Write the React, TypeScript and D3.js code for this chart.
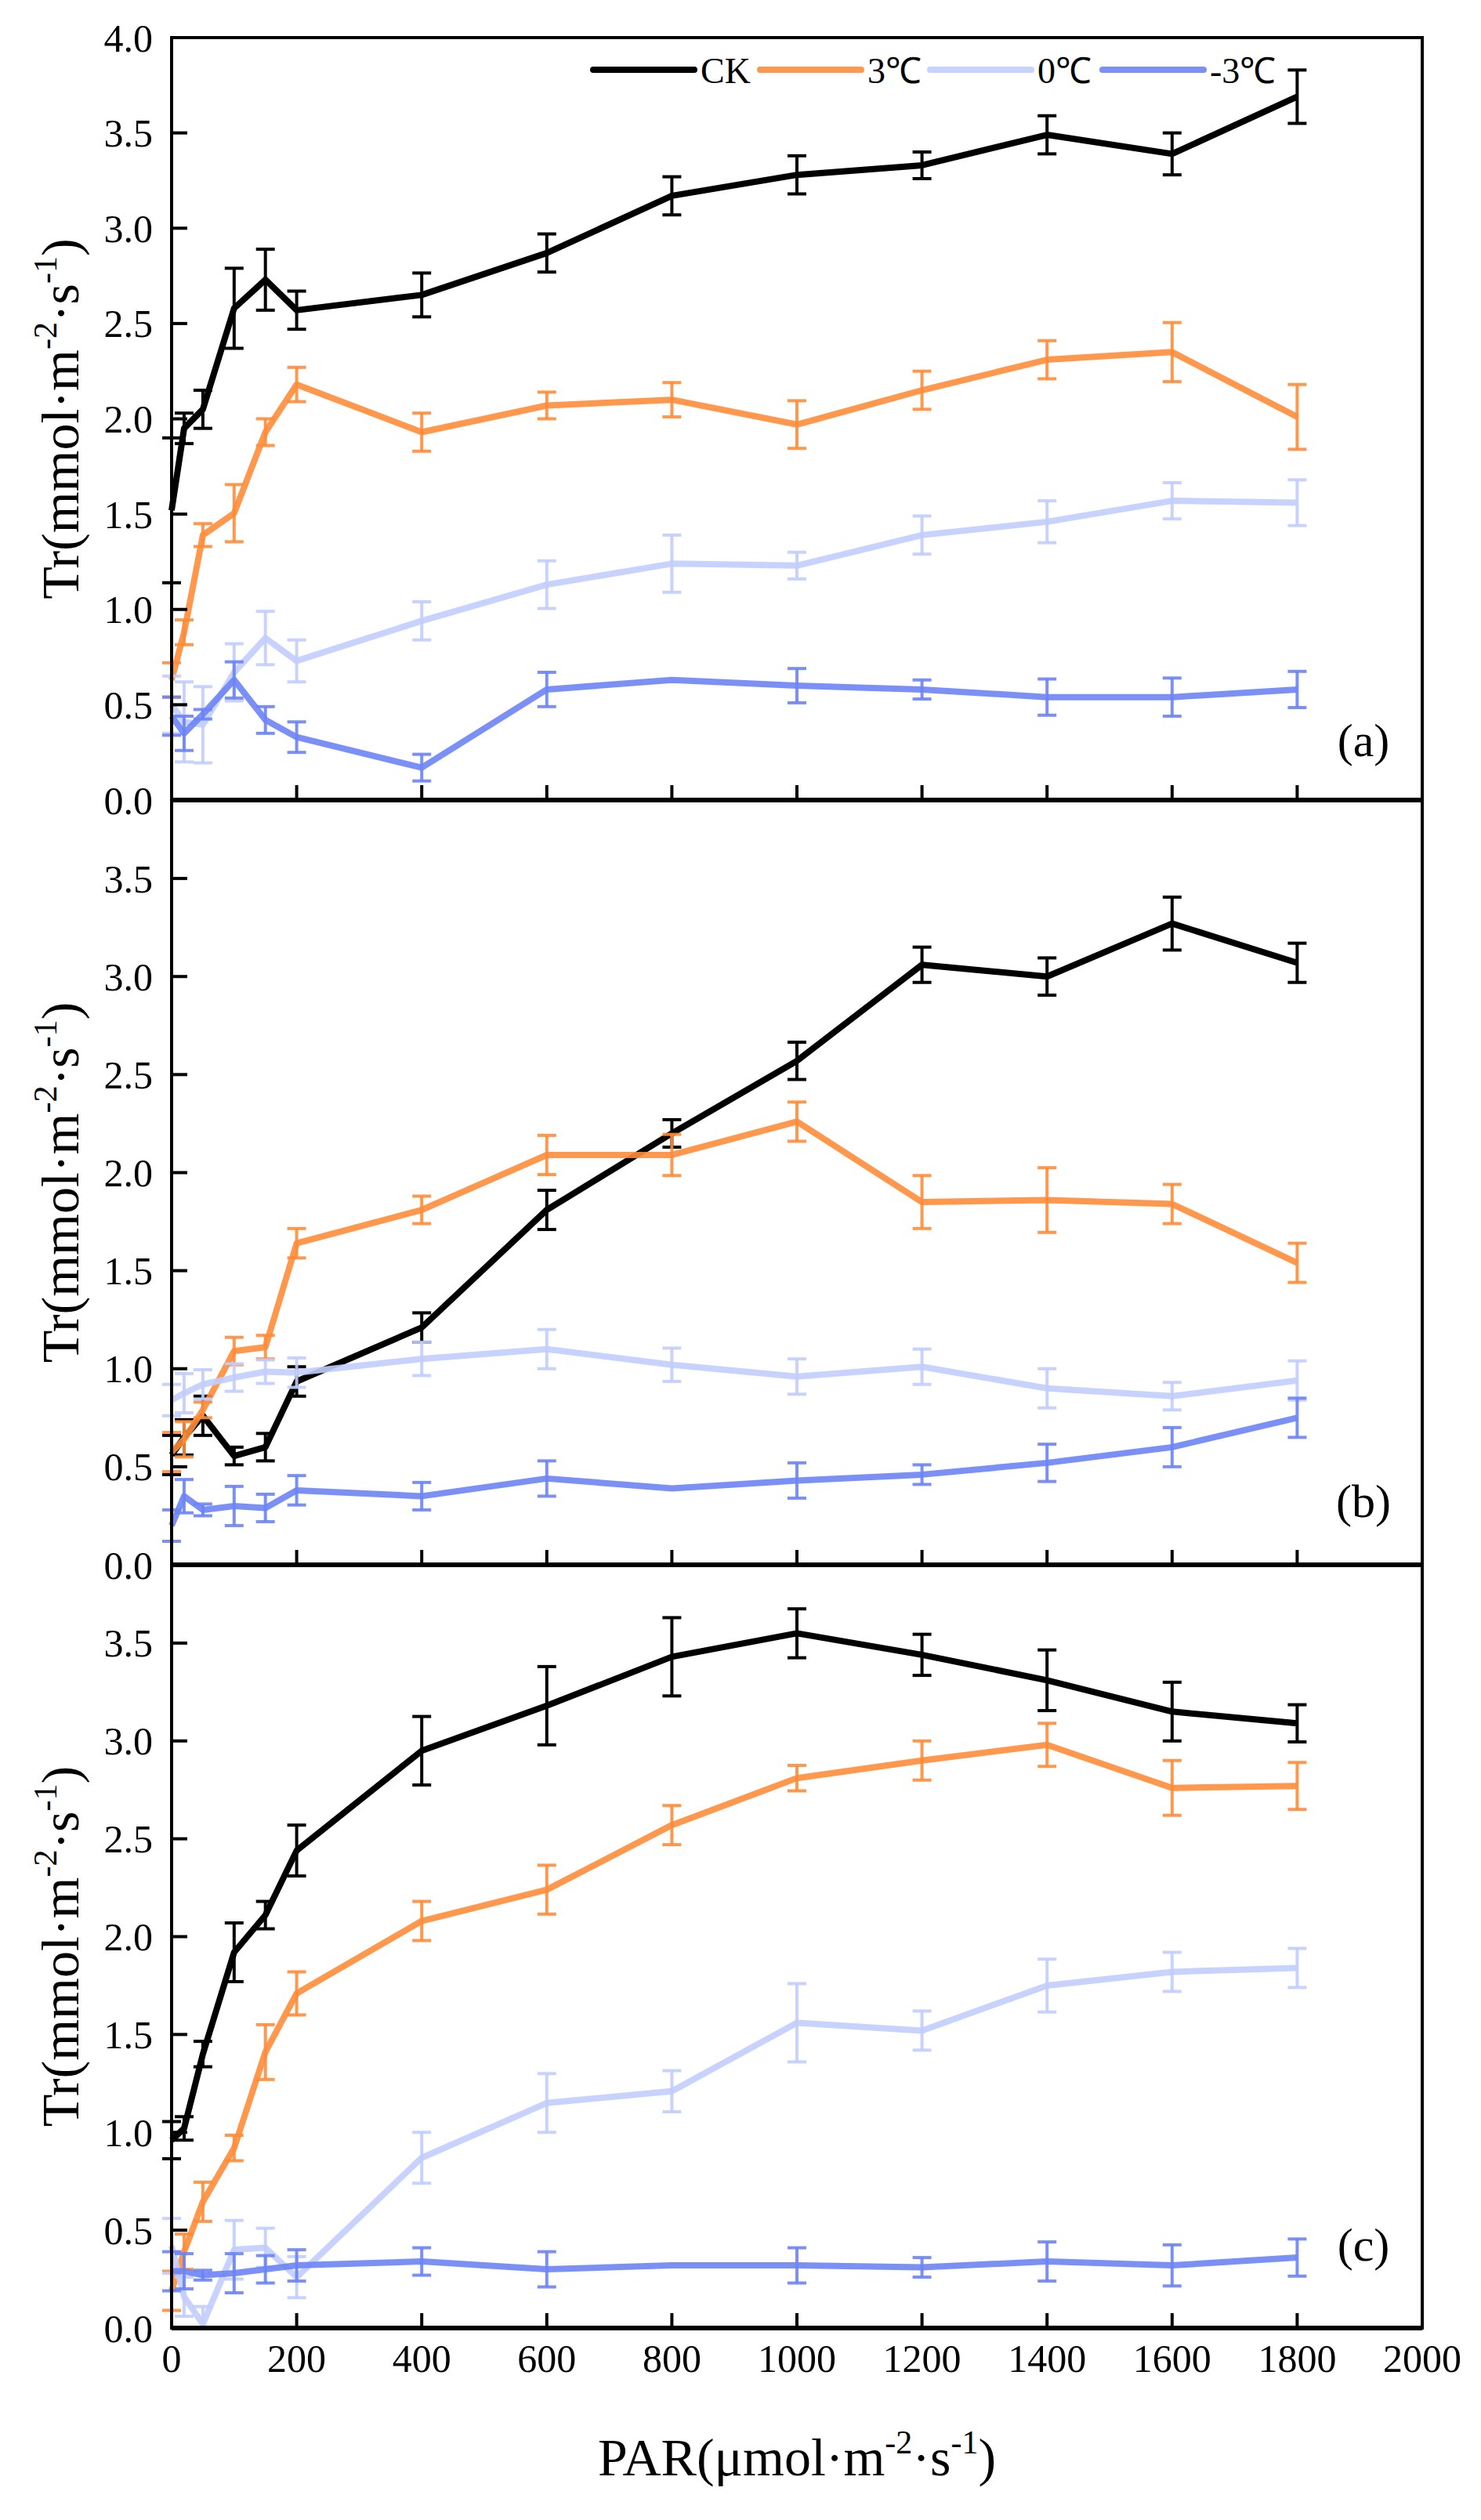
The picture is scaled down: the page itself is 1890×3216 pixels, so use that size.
import { useEffect, useRef } from 'react';
import * as d3 from 'd3';

// PAR levels (umol m-2 s-1)
const par = [0, 20, 50, 100, 150, 200, 400, 600, 800, 1000, 1200, 1400, 1600, 1800];

const seriesNames = ["CK", "3℃", "0℃", "-3℃"];
const seriesColors = ["#000000", "#FF8C3A", "#C2CDFE", "#6B84F6"];

// panel (a)
const ckA = [1.52, 1.95, 2.05, 2.58, 2.73, 2.57, 2.65, 2.87, 3.17, 3.28, 3.33, 3.49, 3.39, 3.69];
const ckAErr = [0.38, 0.08, 0.1, 0.21, 0.16, 0.1, 0.115, 0.1, 0.1, 0.1, 0.07, 0.1, 0.11, 0.14];
const t3A = [0.63, 0.88, 1.39, 1.505, 1.93, 2.18, 1.93, 2.07, 2.1, 1.97, 2.15, 2.31, 2.35, 2.01];
const t3AErr = [0.09, 0.065, 0.06, 0.15, 0.07, 0.09, 0.1, 0.07, 0.09, 0.125, 0.1, 0.1, 0.155, 0.17];
const t0A = [0.5, 0.41, 0.395, 0.67, 0.85, 0.73, 0.94, 1.13, 1.24, 1.23, 1.39, 1.46, 1.57, 1.56];
const t0AErr = [0.15, 0.21, 0.2, 0.15, 0.14, 0.11, 0.1, 0.125, 0.15, 0.07, 0.1, 0.11, 0.095, 0.12];
const tm3A = [0.44, 0.35, 0.45, 0.63, 0.42, 0.33, 0.17, 0.58, 0.63, 0.6, 0.58, 0.54, 0.54, 0.58];
const tm3AErr = [0.1, 0.09, 0.025, 0.095, 0.07, 0.08, 0.07, 0.09, 0, 0.09, 0.05, 0.095, 0.1, 0.095];

// panel (b)
const ckB = [0.56, 0.65, 0.76, 0.555, 0.6, 0.935, 1.21, 1.81, 2.2, 2.57, 3.06, 3.0, 3.27, 3.07];
const ckBErr = [0.1, 0.09, 0.1, 0.045, 0.07, 0.075, 0.075, 0.1, 0.07, 0.095, 0.09, 0.095, 0.135, 0.1];
const t3B = [0.575, 0.64, 0.79, 1.09, 1.11, 1.64, 1.81, 2.09, 2.09, 2.26, 1.85, 1.86, 1.84, 1.54];
const t3BErr = [0.1, 0.09, 0.04, 0.07, 0.06, 0.075, 0.07, 0.1, 0.105, 0.1, 0.135, 0.165, 0.1, 0.1];
const t0B = [0.84, 0.875, 0.92, 0.955, 0.985, 0.98, 1.05, 1.1, 1.02, 0.96, 1.01, 0.9, 0.86, 0.94];
const t0BErr = [0.08, 0.1, 0.075, 0.07, 0.06, 0.075, 0.085, 0.1, 0.085, 0.09, 0.09, 0.1, 0.07, 0.1];
const tm3B = [0.2, 0.35, 0.28, 0.3, 0.29, 0.38, 0.35, 0.44, 0.39, 0.43, 0.46, 0.52, 0.6, 0.75];
const tm3BErr = [0.08, 0.085, 0.03, 0.1, 0.07, 0.075, 0.07, 0.09, 0, 0.09, 0.05, 0.095, 0.1, 0.1];

// panel (c)
const ckC = [0.96, 1.02, 1.4, 1.92, 2.11, 2.44, 2.95, 3.18, 3.43, 3.55, 3.44, 3.31, 3.15, 3.09];
const ckCErr = [0.095, 0.06, 0.065, 0.15, 0.07, 0.13, 0.175, 0.2, 0.2, 0.125, 0.105, 0.155, 0.15, 0.095];
const t3C = [0.19, 0.39, 0.645, 0.92, 1.41, 1.71, 2.08, 2.24, 2.57, 2.81, 2.9, 2.98, 2.76, 2.77];
const t3CErr = [0.1, 0.09, 0.1, 0.065, 0.14, 0.11, 0.1, 0.125, 0.1, 0.065, 0.1, 0.11, 0.14, 0.12];
const t0C = [0.42, 0.16, 0.02, 0.4, 0.41, 0.26, 0.87, 1.15, 1.21, 1.56, 1.52, 1.75, 1.82, 1.84];
const t0CErr = [0.14, 0.1, 0.09, 0.15, 0.1, 0.105, 0.13, 0.15, 0.105, 0.2, 0.1, 0.135, 0.1, 0.1];
const tm3C = [0.29, 0.29, 0.27, 0.28, 0.3, 0.32, 0.34, 0.3, 0.32, 0.32, 0.31, 0.34, 0.32, 0.36];
const tm3CErr = [0.1, 0.09, 0.025, 0.1, 0.07, 0.08, 0.07, 0.09, 0, 0.09, 0.05, 0.1, 0.105, 0.095];

const xTicks = [0, 200, 400, 600, 800, 1000, 1200, 1400, 1600, 1800, 2000];
const yTicksA = [0, 0.5, 1, 1.5, 2, 2.5, 3, 3.5, 4];
const yTicksBC = [0, 0.5, 1, 1.5, 2, 2.5, 3, 3.5];

const panels = [
    { label: "(a)", yMax: 4.0, ticks: yTicksA, values: [ckA, t3A, t0A, tm3A], errors: [ckAErr, t3AErr, t0AErr, tm3AErr] },
    { label: "(b)", yMax: 3.9, ticks: yTicksBC, values: [ckB, t3B, t0B, tm3B], errors: [ckBErr, t3BErr, t0BErr, tm3BErr] },
    { label: "(c)", yMax: 3.9, ticks: yTicksBC, values: [ckC, t3C, t0C, tm3C], errors: [ckCErr, t3CErr, t0CErr, tm3CErr] },
];

const WIDTH = 1890;
const HEIGHT = 3216;
const FONT = "'Liberation Serif', 'Times New Roman', serif";

export default function App() {
    const svgRef = useRef<SVGSVGElement>(null);

    useEffect(() => {
        if (!svgRef.current) return;
        const svg = d3.select(svgRef.current);
        svg.selectAll("*").remove();

        const left = 219;
        const right = 1815;
        const tops = [48, 1021, 1997];
        const bottoms = [1021, 1997, 2971];

        const x = d3.scaleLinear().domain([0, 2000]).range([left, right]);

        panels.forEach((p, pi) => {
            const y = d3.scaleLinear().domain([0, p.yMax]).range([bottoms[pi], tops[pi]]);
            const g = svg.append("g");

            // series: lines then error bars
            p.values.forEach((vals, si) => {
                const color = seriesColors[si];
                const op = si === 0 ? 1 : 0.9;
                const pts = par.map((v, i) => [v, vals[i]] as [number, number]);
                const line = d3.line<[number, number]>()
                    .x(d => x(d[0]))
                    .y(d => y(d[1]));

                g.append("path")
                    .attr("d", line(pts))
                    .attr("fill", "none")
                    .attr("stroke", color)
                    .attr("stroke-opacity", op)
                    .attr("stroke-width", 8)
                    .attr("stroke-linejoin", "round");

                const errs = p.errors[si];
                const eg = g.append("g")
                    .attr("stroke", color)
                    .attr("stroke-opacity", op)
                    .attr("stroke-width", 4);
                par.forEach((v, i) => {
                    if (!errs[i]) return;
                    const cx = x(v);
                    const y1 = y(Math.max(0, vals[i] - errs[i]));
                    const y2 = y(vals[i] + errs[i]);
                    eg.append("line").attr("x1", cx).attr("x2", cx).attr("y1", y1).attr("y2", y2);
                    eg.append("line").attr("x1", cx - 12).attr("x2", cx + 12).attr("y1", y1).attr("y2", y1);
                    eg.append("line").attr("x1", cx - 12).attr("x2", cx + 12).attr("y1", y2).attr("y2", y2);
                });
            });

            // frame
            g.append("rect")
                .attr("x", left)
                .attr("y", tops[pi])
                .attr("width", right - left)
                .attr("height", bottoms[pi] - tops[pi])
                .attr("fill", "none")
                .attr("stroke", "#000")
                .attr("stroke-width", 4);
            g.append("line")
                .attr("x1", left).attr("x2", right)
                .attr("y1", bottoms[pi]).attr("y2", bottoms[pi])
                .attr("stroke", "#000").attr("stroke-width", 6);

            // x ticks (inward)
            g.selectAll(".xtick")
                .data(xTicks.slice(1, -1))
                .enter()
                .append("line")
                .attr("x1", d => x(d)).attr("x2", d => x(d))
                .attr("y1", bottoms[pi]).attr("y2", bottoms[pi] - 19)
                .attr("stroke", "#000").attr("stroke-width", 4);

            // y ticks (inward) + labels
            g.selectAll(".ytick")
                .data(p.ticks)
                .enter()
                .append("line")
                .attr("x1", left).attr("x2", left + 20)
                .attr("y1", d => y(d)).attr("y2", d => y(d))
                .attr("stroke", "#000").attr("stroke-width", 4);
            g.selectAll(".ylab")
                .data(p.ticks)
                .enter()
                .append("text")
                .attr("x", left - 24)
                .attr("y", d => y(d))
                .attr("dy", "0.35em")
                .attr("text-anchor", "end")
                .attr("font-family", FONT)
                .attr("font-size", 50)
                .text(d => d.toFixed(1));

            // y title
            const cy = (tops[pi] + bottoms[pi]) / 2;
            const title = g.append("text")
                .attr("transform", `translate(100,${cy}) rotate(-90)`)
                .attr("text-anchor", "middle")
                .attr("font-family", FONT)
                .attr("font-size", 68);
            title.append("tspan").text("Tr(mmol·m");
            title.append("tspan").attr("font-size", 42).attr("dy", -28).text("-2");
            title.append("tspan").attr("dy", 28).text("·s");
            title.append("tspan").attr("font-size", 42).attr("dy", -28).text("-1");
            title.append("tspan").attr("dy", 28).text(")");

            // panel label
            const labelOffset = [56, 61, 86][pi];
            g.append("text")
                .attr("x", 1740)
                .attr("y", bottoms[pi] - labelOffset)
                .attr("text-anchor", "middle")
                .attr("font-family", FONT)
                .attr("font-size", 60)
                .text(p.label);
        });

        // x tick labels under the last panel
        svg.append("g")
            .selectAll("text")
            .data(xTicks)
            .enter()
            .append("text")
            .attr("x", d => x(d))
            .attr("y", 3027)
            .attr("text-anchor", "middle")
            .attr("font-family", FONT)
            .attr("font-size", 50)
            .text(d => String(d));

        // x title
        const xt = svg.append("text")
            .attr("x", (left + right) / 2)
            .attr("y", 3159)
            .attr("text-anchor", "middle")
            .attr("font-family", FONT)
            .attr("font-size", 68);
        xt.append("tspan").text("PAR(μmol·m");
        xt.append("tspan").attr("font-size", 42).attr("dy", -28).text("-2");
        xt.append("tspan").attr("dy", 28).text("·s");
        xt.append("tspan").attr("font-size", 42).attr("dy", -28).text("-1");
        xt.append("tspan").attr("dy", 28).text(")");

        // legend
        const legendX = [757, 970, 1187, 1407];
        const lg = svg.append("g");
        seriesNames.forEach((name, i) => {
            lg.append("line")
                .attr("x1", legendX[i]).attr("x2", legendX[i] + 129)
                .attr("y1", 89).attr("y2", 89)
                .attr("stroke", seriesColors[i])
                .attr("stroke-opacity", i === 0 ? 1 : 0.9)
                .attr("stroke-width", 8)
                .attr("stroke-linecap", "round");
            lg.append("text")
                .attr("x", legendX[i] + 137)
                .attr("y", 106)
                .attr("font-family", FONT)
                .attr("font-size", 46)
                .text(name);
        });
    }, []);

    return (
        <div style={{ position: "absolute", left: 0, top: 0 }}>
            <svg
                ref={svgRef}
                width={WIDTH}
                height={HEIGHT}
                viewBox={`0 0 ${WIDTH} ${HEIGHT}`}
                style={{ display: "block", background: "#fff" }}
            />
        </div>
    );
}
